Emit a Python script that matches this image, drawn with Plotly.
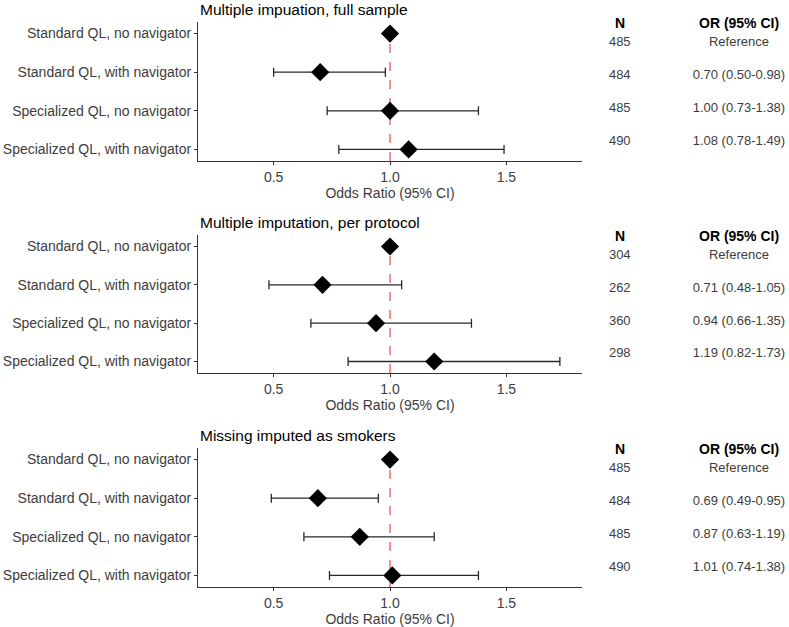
import numpy as np
import plotly.graph_objects as go

# ---------------- data ----------------
labels = ["Standard QL, no navigator", "Standard QL, with navigator",
          "Specialized QL, no navigator", "Specialized QL, with navigator"]

titles = ["Multiple impuation, full sample",
          "Multiple imputation, per protocol",
          "Missing imputed as smokers"]

or_full = [1.00, 0.70, 1.00, 1.08]
lo_full = [None, 0.50, 0.73, 0.78]
hi_full = [None, 0.98, 1.38, 1.49]
n_full = [485, 484, 485, 490]

or_pp = [1.00, 0.71, 0.94, 1.19]
lo_pp = [None, 0.48, 0.66, 0.82]
hi_pp = [None, 1.05, 1.35, 1.73]
n_pp = [304, 262, 360, 298]

or_miss = [1.00, 0.69, 0.87, 1.01]
lo_miss = [None, 0.49, 0.63, 0.74]
hi_miss = [None, 0.95, 1.19, 1.38]
n_miss = [485, 484, 485, 490]

x_ticks = [0.5, 1.0, 1.5]
table_cols = ["N", "OR (95% CI)"]
x_title = "Odds Ratio (95% CI)"

panels = [
    (titles[0], or_full, lo_full, hi_full, n_full),
    (titles[1], or_pp, lo_pp, hi_pp, n_pp),
    (titles[2], or_miss, lo_miss, hi_miss, n_miss),
]

# ---------------- style / layout ----------------
W, H = 789, 627
FONT = "Arial, Liberation Sans, sans-serif"
TXT = "#3d3d3d"
AX = "#333333"
plot_x_dom = [198 / W, 582 / W]
table_x_dom = [584 / W, 1.0]
panel_px = [(22, 161), (235, 373), (448, 587)]  # top, bottom in pixels

fig = go.Figure()
layout = dict(
    width=W, height=H, margin=dict(l=0, r=0, t=0, b=0),
    paper_bgcolor="white", plot_bgcolor="white", showlegend=False,
    font=dict(family=FONT, color=TXT),
)
annotations = []
shapes = []

for i, (title, orv, lov, hiv, nv) in enumerate(panels):
    k = i + 1
    kt = i + 4
    top, bot = panel_px[i]
    ydom = [1 - bot / H, 1 - top / H]

    orv_a = np.array(orv, dtype=float)
    lo_a = np.array([np.nan if v is None else v for v in lov], dtype=float)
    hi_a = np.array([np.nan if v is None else v for v in hiv], dtype=float)

    xs = "x" if k == 1 else f"x{k}"
    ys = "y" if k == 1 else f"y{k}"

    fig.add_trace(go.Scatter(
        x=orv_a, y=labels, mode="markers", xaxis=xs, yaxis=ys,
        marker=dict(symbol="diamond", size=14, color="black"),
        error_x=dict(type="data", symmetric=False,
                     array=hi_a - orv_a, arrayminus=orv_a - lo_a,
                     color="#2a2a2a", thickness=1.3, width=4.5),
        hoverinfo="skip",
    ))

    # table
    or_text = ["Reference" if np.isnan(l) else f"{o:.2f} ({l:.2f}-{h:.2f})"
               for o, l, h in zip(orv_a, lo_a, hi_a)]
    fig.add_trace(go.Scatter(
        x=[table_cols[0]] * len(labels), y=labels, mode="text",
        text=[str(n) for n in nv], xaxis=f"x{kt}", yaxis=f"y{kt}",
        textfont=dict(size=13, color=TXT, family=FONT), cliponaxis=False,
        hoverinfo="skip",
    ))
    fig.add_trace(go.Scatter(
        x=[table_cols[1]] * len(labels), y=labels, mode="text",
        text=or_text, xaxis=f"x{kt}", yaxis=f"y{kt}",
        textfont=dict(size=13, color=TXT, family=FONT), cliponaxis=False,
        hoverinfo="skip",
    ))
    for col in table_cols:
        annotations.append(dict(
            text=f"<b>{col}</b>", x=col, xref=f"x{kt}",
            y=1, yref=f"y{kt} domain", yanchor="middle", yshift=-1,
            showarrow=False, font=dict(size=14, color="black", family=FONT),
        ))

    # axes
    layout[f"xaxis{'' if k == 1 else k}"] = dict(
        domain=plot_x_dom, anchor=ys, range=[0.175, 1.825],
        tickvals=x_ticks, ticktext=[f"{v:.1f}" for v in x_ticks],
        ticks="outside", ticklen=3, tickcolor=AX, tickwidth=1,
        showline=True, linecolor=AX, linewidth=1.1,
        showgrid=False, zeroline=False,
        tickfont=dict(size=14, color=TXT),
        title=dict(text=x_title, font=dict(size=14, color=TXT), standoff=3),
    )
    layout[f"yaxis{'' if k == 1 else k}"] = dict(
        domain=ydom, anchor=xs, type="category",
        categoryorder="array", categoryarray=labels, range=[3.3, -0.3],
        ticks="outside", ticklen=3, tickcolor=AX, tickwidth=1,
        showline=True, linecolor=AX, linewidth=1.1,
        showgrid=False, zeroline=False,
        tickfont=dict(size=14, color=TXT),
    )
    layout[f"xaxis{kt}"] = dict(
        domain=table_x_dom, anchor=f"y{kt}", type="category",
        categoryorder="array", categoryarray=table_cols, range=[-0.3, 1.42],
        visible=False,
    )
    layout[f"yaxis{kt}"] = dict(
        domain=ydom, anchor=f"x{kt}", type="category",
        categoryorder="array", categoryarray=labels, range=[3.576, -0.636],
        visible=False,
    )

    # reference line at OR = 1
    shapes.append(dict(
        type="line", xref=xs, yref=f"{ys} domain", x0=1, x1=1, y0=0, y1=1,
        line=dict(color="#F59090", width=2, dash="dash"), layer="below",
    ))
    # panel title
    annotations.append(dict(
        text=title, xref=f"{xs} domain", yref=f"{ys} domain", x=0, y=1,
        xanchor="left", yanchor="bottom", yshift=2, showarrow=False,
        font=dict(size=15.5, color="black", family=FONT),
    ))

layout["annotations"] = annotations
layout["shapes"] = shapes
fig.update_layout(**layout)
fig.write_html("out.html", config={"displayModeBar": False},
               post_script="document.body.style.margin='0';document.body.style.overflow='hidden';")
